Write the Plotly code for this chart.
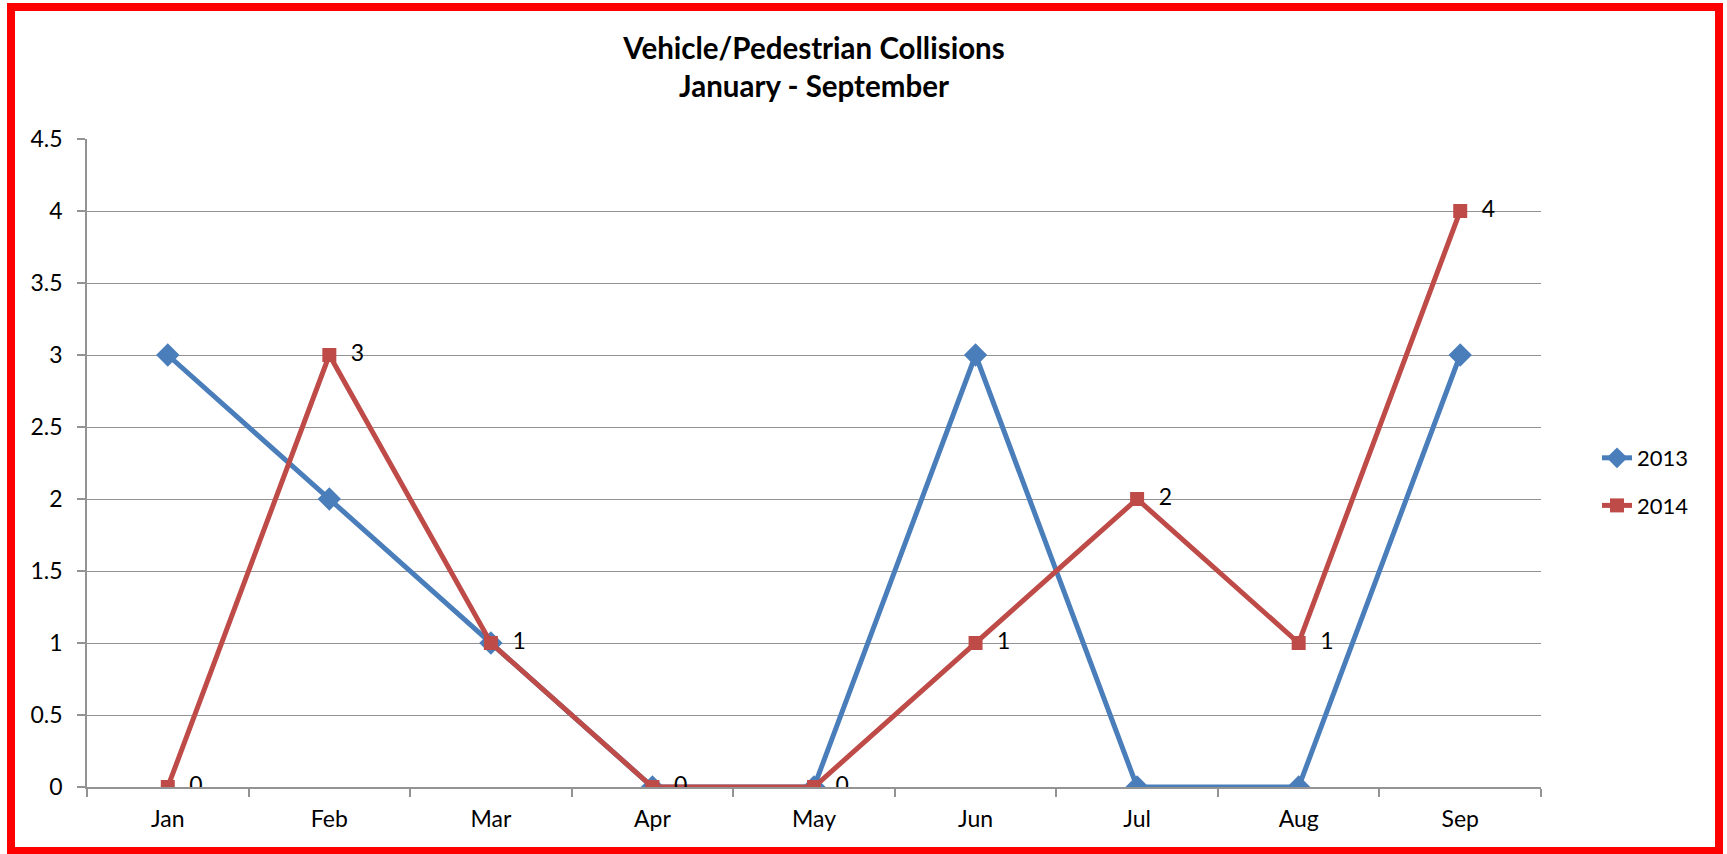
import plotly.graph_objects as go

months = ["Jan", "Feb", "Mar", "Apr", "May", "Jun", "Jul", "Aug", "Sep"]
y2013 = [3, 2, 1, 0, 0, 3, 0, 0, 3]
y2014 = [0, 3, 1, 0, 0, 1, 2, 1, 4]
series_names = ["2013", "2014"]

W, H = 1727, 854
L, R, T, B = 87, 1541, 139, 787
pw, ph = R - L, B - T

def px(x):
    return (x - L) / pw

def py(y):
    return (B - y) / ph

FONT = "Lato"
GRID = "#939393"
TICKFONT = dict(family=FONT, size=23, color="black")

fig = go.Figure()
fig.add_trace(go.Scatter(
    x=months, y=y2013, name=series_names[0], mode="lines+markers",
    line=dict(color="#4A7EBB", width=5),
    marker=dict(symbol="diamond", size=18, color="#4A7EBB"),
    legendgroup="a",
))
fig.add_trace(go.Scatter(
    x=months, y=y2014, name=series_names[1], mode="lines+markers+text",
    line=dict(color="#BE4B48", width=5),
    marker=dict(symbol="square", size=14, color="#BE4B48"),
    text=["  " + str(v) for v in y2014], textposition="middle right",
    textfont=dict(family=FONT, size=23, color="black"),
    legendgroup="b",
))

fig.update_layout(
    width=W, height=H,
    margin=dict(l=L, r=W - R, t=T, b=H - B, pad=0),
    paper_bgcolor="white", plot_bgcolor="white",
    font=dict(family=FONT, size=21, color="black"),
    title=dict(
        text="<b>Vehicle/Pedestrian Collisions<br>January - September</b>",
        x=0.5, xref="paper", xanchor="center",
        y=1 - 59 / H, yanchor="middle",
        font=dict(family=FONT, size=29.5, color="black"),
    ),
    showlegend=True,
    legend=dict(
        x=px(1597), xanchor="left", y=py(482), yanchor="middle",
        font=dict(family=FONT, size=22, color="black"),
        tracegroupgap=16, bgcolor="rgba(0,0,0,0)",
    ),
    xaxis=dict(
        type="category", showgrid=False, showline=True, linecolor=GRID, linewidth=1.5,
        ticks="outside", tickson="boundaries", ticklen=8, tickcolor=GRID, tickwidth=1.5,
        range=[-0.5, 8.5], zeroline=False, ticklabelstandoff=11, tickfont=TICKFONT,
    ),
    yaxis=dict(
        range=[0, 4.5], dtick=0.5, showgrid=True, gridcolor=GRID, gridwidth=1.2,
        showline=True, linecolor=GRID, linewidth=1.5, zeroline=False,
        ticks="outside", ticklen=8, tickcolor=GRID, tickwidth=1.5,
        tickformat="~g", ticklabelstandoff=10, tickfont=TICKFONT,
    ),
    shapes=[dict(
        type="rect", xref="paper", yref="paper",
        x0=px(11), x1=px(1719), y0=py(851), y1=py(7),
        line=dict(color="#FF0000", width=8), fillcolor="rgba(0,0,0,0)", layer="above",
    )],
)

fig.write_html(
    "out.html",
    config={"displayModeBar": False},
    post_script="document.body.style.margin='0';document.body.style.overflow='hidden';",
)
